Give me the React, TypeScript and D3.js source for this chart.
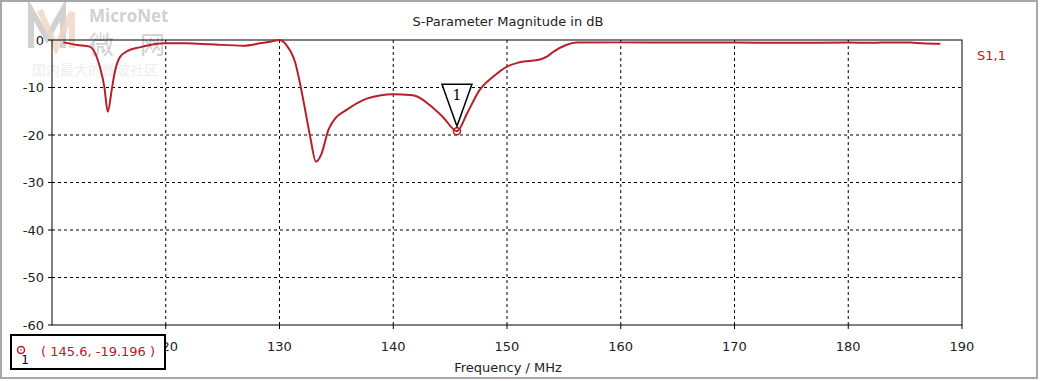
import React from "react";
import * as d3 from "d3";

const freqMHz = [111.0, 112.2, 113.3, 113.8, 114.2, 114.6, 114.9, 115.25, 115.5, 116.0, 116.7, 117.7, 118.6, 119.8, 121.8, 123.9, 126.8, 128.3, 129.3, 130.0, 130.6, 131.4, 131.8, 132.2, 132.7, 133.2, 133.7, 134.3, 134.9, 135.9, 137.4, 138.8, 140.0, 141.5, 142.1, 143.2, 144.4, 145.6, 146.5, 147.6, 148.8, 150.0, 151.1, 152.9, 153.5, 154.1, 155.2, 156.1, 160, 165, 170, 175, 180, 182, 184, 185.5, 186.5, 188.1];
const s11dB = [-0.5, -1.05, -1.4, -2.8, -5.6, -9.8, -15.1, -10.5, -7.0, -3.5, -2.25, -1.55, -1.05, -0.7, -0.7, -0.9, -1.2, -0.7, -0.3, 0, -1.05, -4.9, -9.1, -14, -20.4, -25.6, -23.9, -18.9, -16.5, -14.7, -12.6, -11.7, -11.4, -11.6, -11.9, -13.7, -16.3, -19.196, -15.4, -10.5, -7.7, -5.6, -4.7, -4.1, -3.5, -2.45, -1.05, -0.55, -0.5, -0.5, -0.55, -0.6, -0.55, -0.6, -0.5, -0.55, -0.7, -0.8];

const xTicks = [120, 130, 140, 150, 160, 170, 180, 190];
const yTicks = [0, -10, -20, -30, -40, -50, -60];
const markerFreq = [145.6];
const markerDb = [-19.196];
const markerIds = ["1"];

const title = "S-Parameter Magnitude in dB";
const xTitle = "Frequency / MHz";
const seriesName = "S1,1";

const W = 1040, H = 381;
const L = 52, R = 962, T = 40, B = 325;
const RED = "#b5202a";
const FONT = "DejaVu Sans, Verdana, sans-serif";

export default function App() {
  const x = d3.scaleLinear().domain([110, 190]).range([L, R]);
  const y = d3.scaleLinear().domain([-60, 0]).range([B, T]);
  const pts = freqMHz.map((f, i) => [f, s11dB[i]] as [number, number]);
  const line = d3.line<[number, number]>().x(d => x(d[0])).y(d => y(d[1])).curve(d3.curveMonotoneX);

  const mx = x(markerFreq[0]);
  const my = y(markerDb[0]);

  return (
    <svg width={W} height={H} style={{ position: "absolute", left: 0, top: 0, background: "#fff" }} fontFamily={FONT}>
      <rect x={0} y={0} width={W} height={H} fill="#fff" />
      {/* window border */}
      <rect x={1} y={1} width={1036} height={377} fill="none" stroke="#a8a8a8" strokeWidth={2} />

      {/* watermark */}
      <g opacity={0.45}>
        <path d="M31,48 L31,10 L47,38 L63,10 L63,48" fill="none" stroke="#9a9a9a" strokeWidth={6} />
        <path d="M40,10 L56,48 L72,12 L72,48" fill="none" stroke="#e0a27a" strokeWidth={6} opacity={0.8} />
        <text x={89} y={22} fontSize={17} fontWeight="bold" fill="#9a9a9a" fontFamily="Open Sans, sans-serif">MicroNet</text>
        <text x={89} y={54} fontSize={25} fill="#9a9a9a" fontFamily="Noto Sans CJK SC">微</text>
        <text x={140} y={54} fontSize={25} fill="#9a9a9a" fontFamily="Noto Sans CJK SC">网</text>
        <text x={32} y={75} fontSize={14} fill="#d8d8d8" fontFamily="Noto Sans CJK SC">国内最大的微波社区</text>
      </g>

      <text x={508} y={26} textAnchor="middle" fontSize={13} fill="#222">{title}</text>

      {/* grid */}
      {xTicks.filter(t => t > 110 && t < 190).map(t => (
        <line key={"gx" + t} x1={x(t)} x2={x(t)} y1={T} y2={B} stroke="#000" strokeDasharray="3,3" strokeWidth={1} />
      ))}
      {yTicks.filter(t => t > -60 && t < 0).map(t => (
        <line key={"gy" + t} x1={L} x2={R} y1={y(t)} y2={y(t)} stroke="#000" strokeDasharray="3,3" strokeWidth={1} />
      ))}
      {/* frame */}
      <rect x={L} y={T} width={R - L} height={B - T} fill="none" stroke="#000" strokeWidth={1} />
      {/* ticks */}
      {yTicks.map(t => (
        <g key={"yt" + t}>
          <line x1={L - 4} x2={L} y1={y(t)} y2={y(t)} stroke="#000" />
          <text x={L - 8} y={y(t)} dy="0.36em" textAnchor="end" fontSize={13} fill="#222">{t}</text>
        </g>
      ))}
      {xTicks.map(t => (
        <g key={"xt" + t}>
          <line x1={x(t)} x2={x(t)} y1={B} y2={B + 4} stroke="#000" />
          <text x={x(t)} y={351} textAnchor="middle" fontSize={13} fill="#222">{t}</text>
        </g>
      ))}
      <text x={508} y={372} textAnchor="middle" fontSize={13} fill="#222">{xTitle}</text>

      {/* curve */}
      <path d={line(pts) || ""} fill="none" stroke={RED} strokeWidth={2} strokeLinejoin="round" />

      <text x={977} y={60} fontSize={13} fill={RED}>{seriesName}</text>

      {/* marker */}
      <circle cx={mx} cy={my} r={3.5} fill="none" stroke={RED} strokeWidth={1.5} />
      <circle cx={mx} cy={my} r={0.8} fill={RED} />
      <path d={`M${mx - 15},${my - 47} L${mx + 15},${my - 47} L${mx},${my - 5} Z`} fill="#fff" stroke="#000" strokeWidth={1.5} />
      <text x={mx} y={my - 31} textAnchor="middle" fontSize={14} fontFamily="DejaVu Serif, serif" fill="#000">{markerIds[0]}</text>

      {/* marker readout box */}
      <rect x={11} y={335} width={154} height={34} fill="#fff" stroke="#000" strokeWidth={2} />
      <circle cx={21} cy={350} r={3.5} fill="none" stroke={RED} strokeWidth={1.5} />
      <circle cx={21} cy={350} r={0.8} fill={RED} />
      <text x={25} y={364} textAnchor="middle" fontSize={12} fill="#000">{markerIds[0]}</text>
      <text x={41} y={356} fontSize={13} fill={RED}>{`( ${markerFreq[0]}, ${markerDb[0]} )`}</text>
    </svg>
  );
}
